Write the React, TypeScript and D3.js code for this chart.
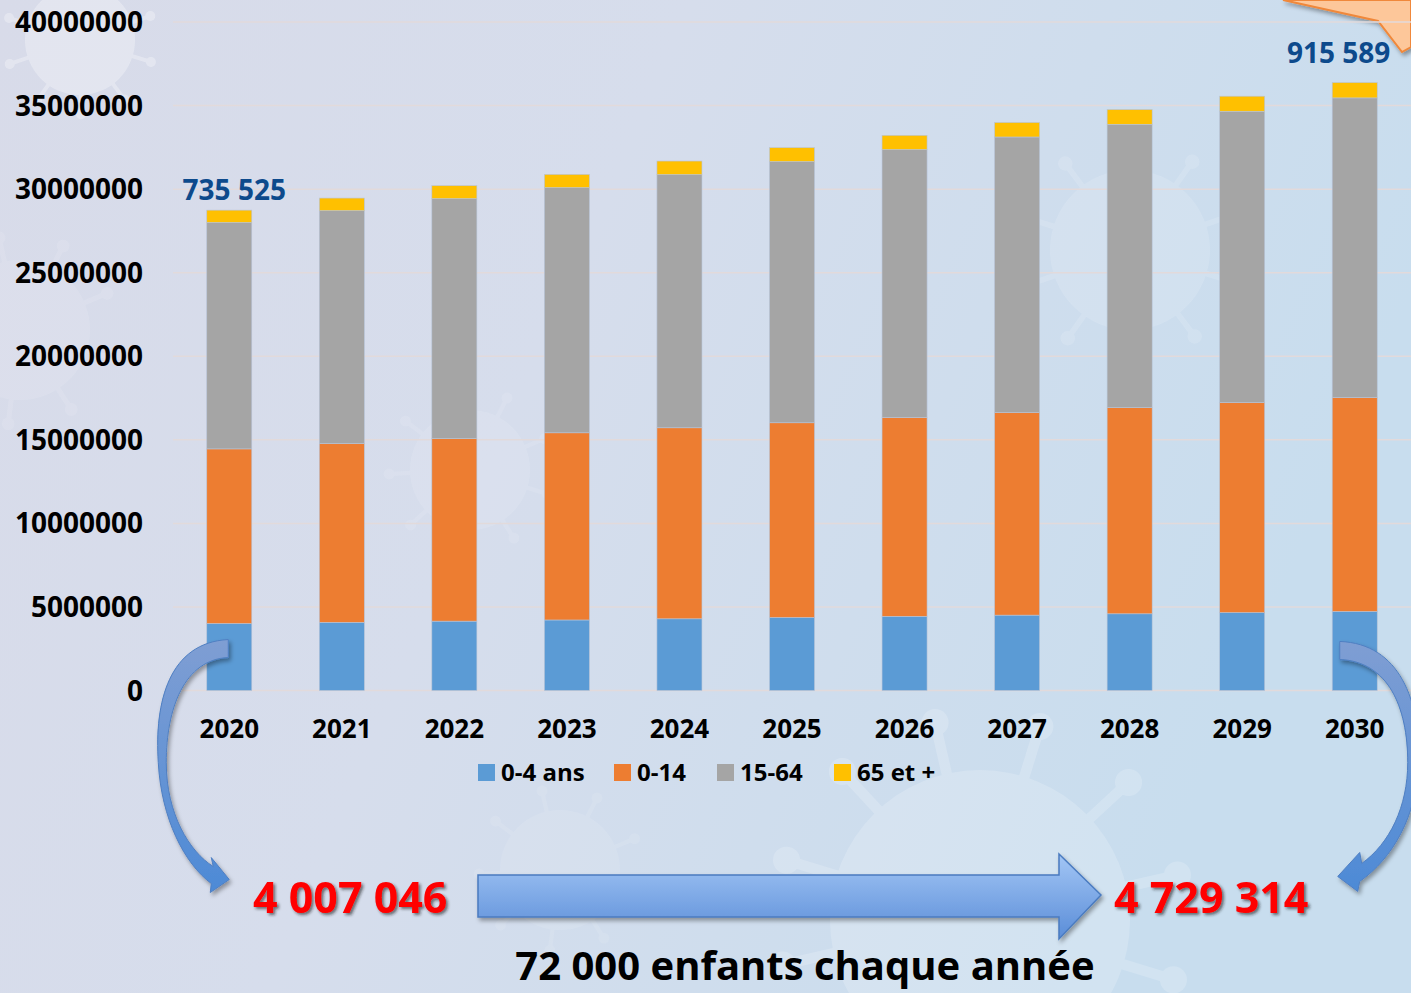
import React from 'react';
import * as d3 from 'd3';

const years = ['2020', '2021', '2022', '2023', '2024', '2025', '2026', '2027', '2028', '2029', '2030'];
const age0to4 = [4007046, 4080000, 4150000, 4220000, 4290000, 4370000, 4440000, 4510000, 4590000, 4660000, 4729314];
const age0to14 = [10450000, 10700000, 10930000, 11200000, 11430000, 11650000, 11900000, 12130000, 12340000, 12570000, 12800000];
const age15to64 = [13550000, 13930000, 14350000, 14670000, 15150000, 15630000, 16030000, 16480000, 16950000, 17430000, 17930000];
const age65plus = [735525, 755000, 775000, 790000, 810000, 830000, 850000, 865000, 880000, 900000, 915589];
const seriesNames = ['0-4 ans', '0-14', '15-64', '65 et +'];
const seriesColors = ['#5b9bd5', '#ed7d31', '#a5a5a5', '#ffc000'];
const yTicks = [0, 5000000, 10000000, 15000000, 20000000, 25000000, 30000000, 35000000, 40000000];
const startLabel = '4 007 046';
const endLabel = '4 729 314';
const footer = '72 000 enfants chaque année';

const W = 1411;
const H = 993;
const FONT = "'Open Sans', 'DejaVu Sans', sans-serif";

function virus(cx: number, cy: number, r: number, spikes: number, key: string, opacity: number) {
  const items: React.ReactNode[] = [];
  for (let i = 0; i < spikes; i++) {
    const a = (i / spikes) * Math.PI * 2 + 0.3;
    const x1 = cx + Math.cos(a) * r * 0.9;
    const y1 = cy + Math.sin(a) * r * 0.9;
    const x2 = cx + Math.cos(a) * r * 1.35;
    const y2 = cy + Math.sin(a) * r * 1.35;
    items.push(<line key={`l${i}`} x1={x1} y1={y1} x2={x2} y2={y2} stroke="#ffffff" strokeWidth={r * 0.07} />);
    items.push(<circle key={`c${i}`} cx={x2} cy={y2} r={r * 0.09} fill="#ffffff" />);
  }
  return (
    <g key={key} opacity={opacity}>
      <circle cx={cx} cy={cy} r={r} fill="#ffffff" />
      {items}
    </g>
  );
}

export default function App() {
  const x = d3.scaleBand<string>().domain(years).range([173, 1411]).paddingInner(0.6).paddingOuter(0.3);
  const y = d3.scaleLinear().domain([0, 40000000]).range([690.5, 22]);

  const rows = years.map((yr, i) => ({ year: yr, a: age0to4[i], b: age0to14[i], c: age15to64[i], d: age65plus[i] }));
  const stack = d3.stack<any>().keys(['a', 'b', 'c', 'd'])(rows);

  const bw = x.bandwidth();
  const cx = (yr: string) => (x(yr) as number) + bw / 2;

  const first = years[0];
  const last = years[years.length - 1];
  const firstTop = stack[3][0][1];
  const lastTop = stack[3][years.length - 1][1];

  const lx = cx(first);
  const ly = y(age0to4[0]);
  const leftArrow = `M ${lx - 1} ${ly + 16}
    C ${lx - 60} ${ly + 19} ${lx - 75} ${ly + 78} ${lx - 71} ${ly + 139}
    C ${lx - 68} ${ly + 195} ${lx - 45} ${ly + 240} ${lx - 18} ${ly + 260}
    L ${lx - 19} ${ly + 269} L ${lx} ${ly + 256} L ${lx - 18} ${ly + 234}
    L ${lx - 16} ${ly + 243}
    C ${lx - 40} ${ly + 228} ${lx - 63} ${ly + 190} ${lx - 63} ${ly + 139}
    C ${lx - 63} ${ly + 85} ${lx - 45} ${ly + 36} ${lx - 1} ${ly + 34} Z`;
  const rx = cx(last);
  const ry = y(age0to4[years.length - 1]);
  const rightArrow = `M ${rx - 15} ${ry + 30}
    C ${rx + 45} ${ry + 32} ${rx + 66} ${ry + 90} ${rx + 64} ${ry + 151}
    C ${rx + 62} ${ry + 205} ${rx + 38} ${ry + 247} ${rx + 5} ${ry + 270}
    L ${rx + 3} ${ry + 280} L ${rx - 17} ${ry + 265} L ${rx + 5} ${ry + 241}
    L ${rx + 7} ${ry + 252}
    C ${rx + 35} ${ry + 232} ${rx + 53} ${ry + 195} ${rx + 53} ${ry + 151}
    C ${rx + 53} ${ry + 95} ${rx + 33} ${ry + 50} ${rx - 15} ${ry + 48} Z`;

  const legendX = [478, 614, 717, 834];

  return (
    <svg width={W} height={H} style={{ position: 'absolute', left: 0, top: 0 }} fontFamily={FONT}>
      <defs>
        <linearGradient id="bg" x1="0" y1="0" x2="1" y2="0.3">
          <stop offset="0" stopColor="#d8dbe9" />
          <stop offset="0.45" stopColor="#d6ddec" />
          <stop offset="1" stopColor="#c8ddee" />
        </linearGradient>
        <linearGradient id="bigArrow" x1="0" y1="0" x2="0" y2="1">
          <stop offset="0" stopColor="#a3c6f5" />
          <stop offset="1" stopColor="#5a8dd8" />
        </linearGradient>
        <linearGradient id="curve" x1="0" y1="0" x2="0" y2="1">
          <stop offset="0" stopColor="#7f9ed3" />
          <stop offset="1" stopColor="#4d8ad6" />
        </linearGradient>
        <filter id="shadow" x="-20%" y="-20%" width="140%" height="160%">
          <feDropShadow dx="2" dy="3" stdDeviation="2" floodColor="#000" floodOpacity="0.35" />
        </filter>
        <filter id="tshadow" x="-10%" y="-20%" width="130%" height="160%">
          <feDropShadow dx="2" dy="2" stdDeviation="1.5" floodColor="#222" floodOpacity="0.6" />
        </filter>
      </defs>
      <rect x={0} y={0} width={W} height={H} fill="url(#bg)" />
      {virus(80, 40, 55, 10, 'v1', 0.3)}
      {virus(20, 330, 70, 9, 'v2', 0.1)}
      {virus(980, 920, 150, 12, 'v3', 0.18)}
      {virus(1130, 250, 80, 10, 'v4', 0.13)}
      {virus(470, 470, 60, 9, 'v5', 0.1)}
      {virus(560, 870, 60, 9, 'v6', 0.09)}

      <polygon points="1283,0 1378,21 1402,52 1411,47 1411,0" fill="#fdc79a" stroke="#f0883a" strokeWidth={2} filter="url(#shadow)" />

      {yTicks.map((t) => (
        <line key={t} x1={173} x2={W} y1={y(t)} y2={y(t)} stroke="#e2dadb" strokeWidth={1.5} />
      ))}
      {yTicks.map((t) => (
        <text key={`t${t}`} x={143} y={y(t) + 10} textAnchor="end" fontSize={28} fontWeight={700} fill="#000">
          {String(t)}
        </text>
      ))}

      {stack.map((s, si) => (
        <g key={si}>
          {s.map((d, i) => (
            <rect
              key={i}
              x={x(years[i])}
              width={bw}
              y={y(d[1])}
              height={y(d[0]) - y(d[1])}
              fill={seriesColors[si]}
              stroke="#b7c4d8"
              strokeWidth={0.6}
            />
          ))}
        </g>
      ))}

      <text x={cx(first) + 5} y={y(firstTop) - 10} textAnchor="middle" fontSize={28} fontWeight={700} fill="#0d4a8c">
        {d3.format(',')(age65plus[0]).replace(/,/g, ' ')}
      </text>
      <text x={cx(last) - 16} y={y(lastTop) - 20} textAnchor="middle" fontSize={28} fontWeight={700} fill="#0d4a8c">
        {d3.format(',')(age65plus[years.length - 1]).replace(/,/g, ' ')}
      </text>

      {years.map((yr) => (
        <text key={yr} x={cx(yr)} y={738} textAnchor="middle" fontSize={26} fontWeight={700} fill="#000">
          {yr}
        </text>
      ))}

      {seriesNames.map((n, i) => (
        <g key={n}>
          <rect x={legendX[i]} y={764} width={17} height={17} fill={seriesColors[i]} />
          <text x={legendX[i] + 23} y={781} fontSize={24} fontWeight={700} fill="#000">
            {n}
          </text>
        </g>
      ))}

      <path d={leftArrow} fill="url(#curve)" stroke="#4f7fc2" strokeWidth={1} filter="url(#shadow)" />
      <path d={rightArrow} fill="url(#curve)" stroke="#4f7fc2" strokeWidth={1} filter="url(#shadow)" />

      <polygon
        points="478,875 1059,875 1059,854 1101,895 1059,939 1059,917 478,917"
        fill="url(#bigArrow)"
        stroke="#4a7bc0"
        strokeWidth={1.5}
        filter="url(#shadow)"
      />

      <text x={253} y={913} fontSize={43} fontWeight={700} fill="#ff0000" filter="url(#tshadow)">
        {startLabel}
      </text>
      <text x={1114} y={913} fontSize={43} fontWeight={700} fill="#ff0000" filter="url(#tshadow)">
        {endLabel}
      </text>

      <text x={805} y={980} textAnchor="middle" fontSize={40} fontWeight={700} fill="#000">
        {footer}
      </text>
    </svg>
  );
}
